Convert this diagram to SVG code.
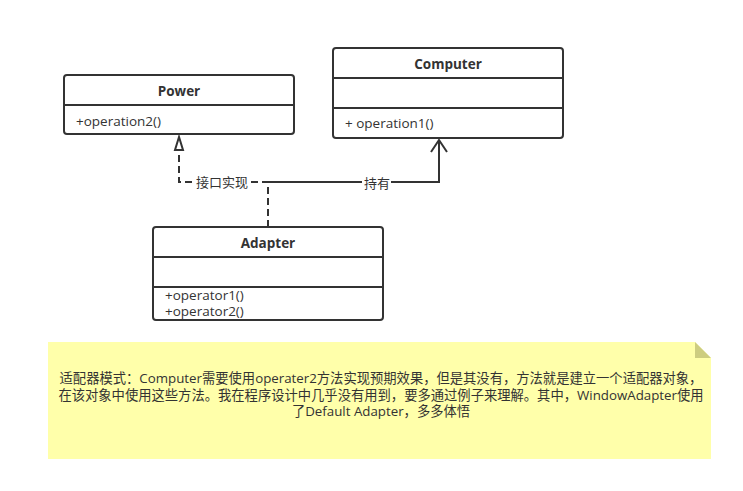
<svg xmlns="http://www.w3.org/2000/svg" width="743" height="491" viewBox="0 0 743 491">
<style>
.box{fill:#ffffff;stroke:#333333;stroke-width:2}
.sep{stroke:#333333;stroke-width:2;fill:none}
.title{font-family:"Open Sans","Noto Sans CJK SC",sans-serif;font-size:13.5px;font-weight:bold;fill:#333333;text-anchor:middle}
.mem{font-family:"Open Sans","Noto Sans CJK SC",sans-serif;font-size:13.5px;fill:#333333}
.lbl{font-family:"Open Sans","Noto Sans CJK SC",sans-serif;font-size:13px;fill:#333333;text-anchor:middle}
.note{font-family:"Open Sans","Noto Sans CJK SC",sans-serif;font-size:13.3px;fill:#333333;text-anchor:middle}
.edge{stroke:#333333;stroke-width:2;fill:none}
</style>
<rect width="743" height="491" fill="#ffffff"/>
<g id="connectors">
  <path class="edge" d="M268,227 V182 H179 V149" stroke-dasharray="7 4"/>
  <path d="M179,137 L175,150 L183,150 Z" fill="#ffffff" stroke="#333333" stroke-width="2"/>
  <path class="edge" d="M268,182 H439 V140"/>
  <path class="edge" d="M431,152 L439,140 L447,152"/>
  <rect x="194" y="174" width="56" height="16" fill="#ffffff"/>
  <text class="lbl" x="222" y="186.5">接口实现</text>
  <rect x="362" y="175" width="29" height="16" fill="#ffffff"/>
  <text class="lbl" x="377" y="188">持有</text>
</g>
<g id="power">
  <rect class="box" x="64" y="75" width="230" height="59" rx="3"/>
  <line class="sep" x1="64" y1="105" x2="294" y2="105"/>
  <text class="title" x="179" y="95.5">Power</text>
  <text class="mem" x="76" y="126">+operation2()</text>
</g>
<g id="computer">
  <rect class="box" x="333" y="48" width="230" height="90" rx="3"/>
  <line class="sep" x1="333" y1="78" x2="563" y2="78"/>
  <line class="sep" x1="333" y1="108" x2="563" y2="108"/>
  <text class="title" x="448" y="68.5">Computer</text>
  <text class="mem" x="345" y="128">+ operation1()</text>
</g>
<g id="adapter">
  <rect class="box" x="153" y="227" width="230" height="93" rx="3"/>
  <line class="sep" x1="153" y1="257" x2="383" y2="257"/>
  <line class="sep" x1="153" y1="287" x2="383" y2="287"/>
  <text class="title" x="268" y="247.5">Adapter</text>
  <text class="mem" x="165" y="300">+operator1()</text>
  <text class="mem" x="165" y="316">+operator2()</text>
</g>
<g id="note">
  <path d="M48,342 H695 L711,358 V459 H48 Z" fill="#ffffaa"/>
  <path d="M695,342 L711,358 H695 Z" fill="#cdcd80"/>
  <text class="note" x="381" y="383">适配器模式：Computer需要使用operater2方法实现预期效果，但是其没有，方法就是建立一个适配器对象，</text>
  <text class="note" x="381" y="399.5">在该对象中使用这些方法。我在程序设计中几乎没有用到，要多通过例子来理解。其中，WindowAdapter使用</text>
  <text class="note" x="381" y="415.5">了Default Adapter，多多体悟</text>
</g>
</svg>
